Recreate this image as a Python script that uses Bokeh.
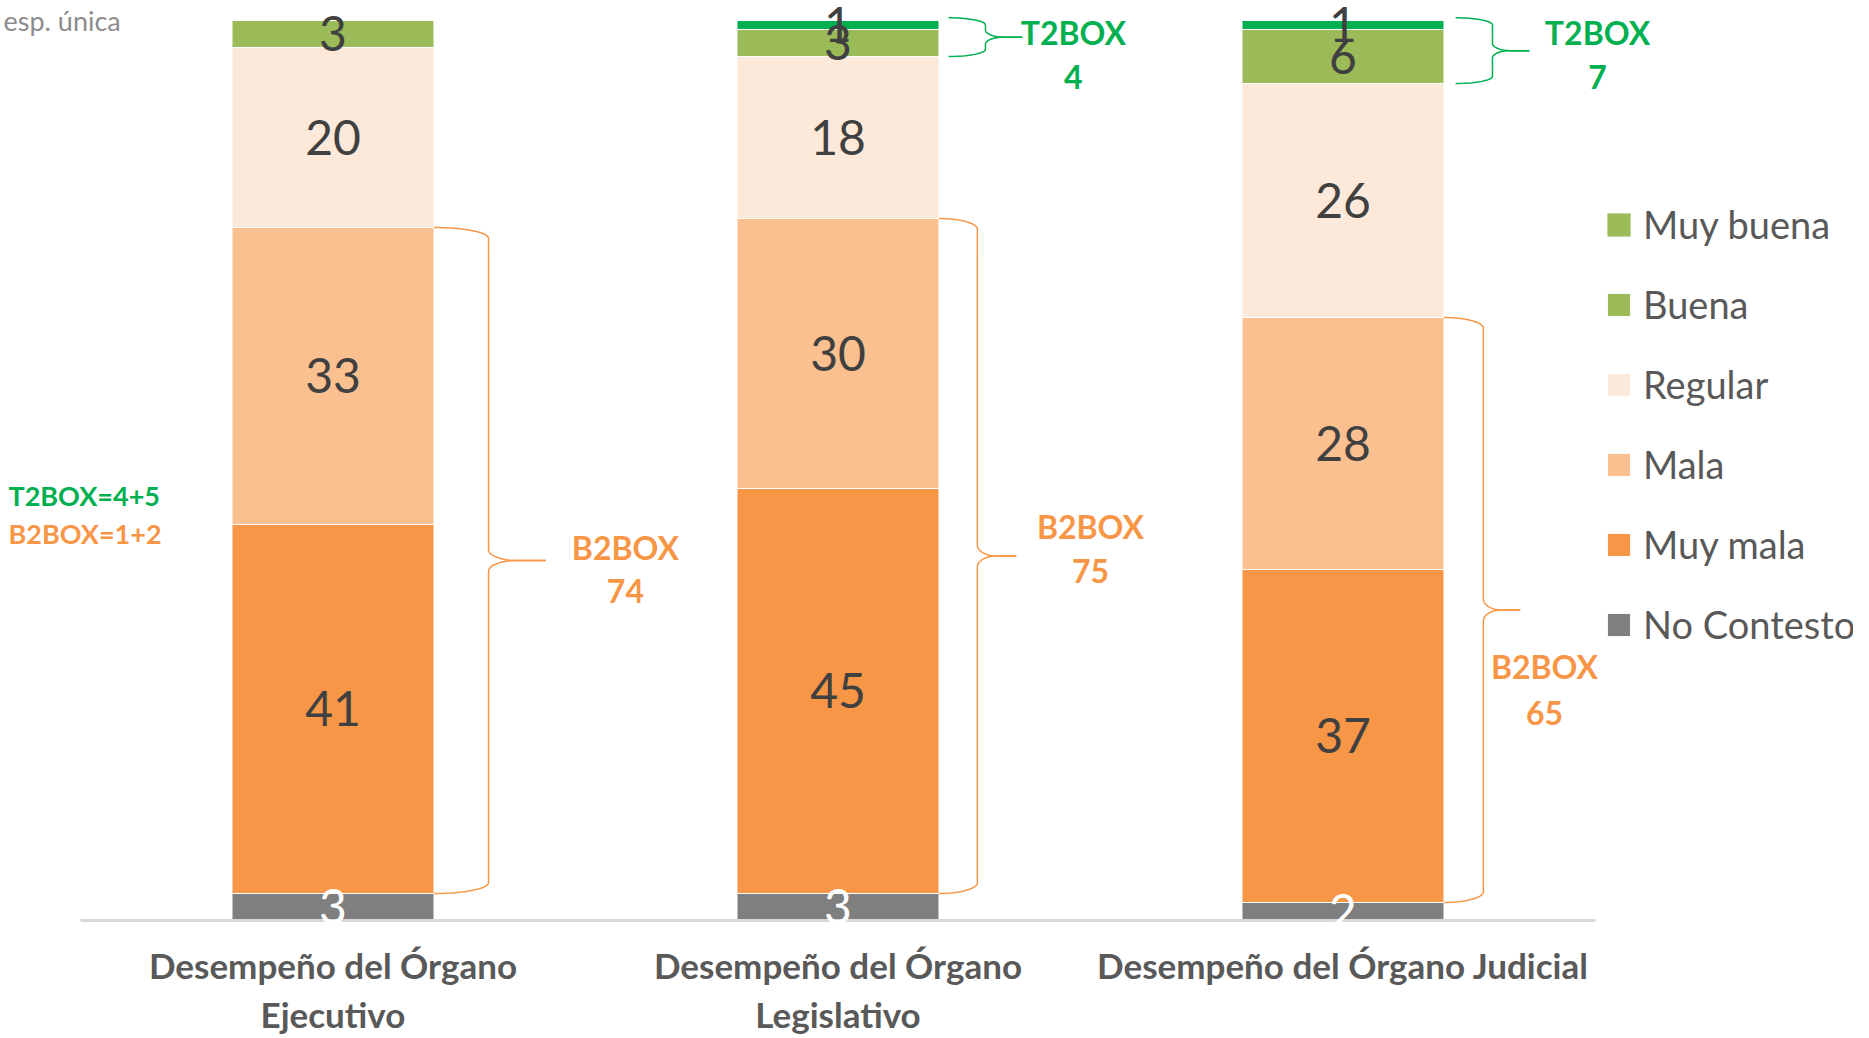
import math
from bokeh.plotting import figure
from bokeh.models import Range1d, Legend, LegendItem, Label, ColumnDataSource
from bokeh.embed import file_html
from bokeh.resources import INLINE
from bokeh.core.properties import value

# ---------------- data ----------------
categories = ["Desempeño del Órgano\nEjecutivo",
              "Desempeño del Órgano\nLegislativo",
              "Desempeño del Órgano Judicial"]
levels = ["No Contesto", "Muy mala", "Mala", "Regular", "Buena", "Muy buena"]
no_contesto = [3, 3, 2]
muy_mala = [41, 45, 37]
mala = [33, 30, 28]
regular = [20, 18, 26]
buena = [3, 3, 6]
muy_buena = [0, 1, 1]
show_t2 = [False, True, True]
note_t2 = "T2BOX=4+5"
note_b2 = "B2BOX=1+2"
subtitle = "esp. única"

# ---------------- style ----------------
colors = ["#7F7F7F", "#F79646", "#FAC090", "#FDE9D9", "#9BBB59", "#00B050"]
legend_colors = ["#7F7F7F", "#F79646", "#FAC090", "#FDE9D9", "#9BBB59", "#9BBB59"]
ORANGE = "#F79646"
GREEN = "#00B050"
FONT = "Lato"

W, H = 1853, 1036
series = [no_contesto, muy_mala, mala, regular, buena, muy_buena]
xpos = [i + 0.5 for i in range(len(categories))]
data = {"x": xpos}
for name, vals in zip(levels, series):
    data[name] = vals
source = ColumnDataSource(data)

p = figure(x_range=Range1d(-0.1584, 3.5109), y_range=Range1d(-12.89, 102.22),
           width=W, height=H, output_backend="svg", toolbar_location=None,
           min_border=0)
p.outline_line_color = None
p.xgrid.visible = False
p.ygrid.visible = False
p.xaxis.visible = False
p.yaxis.visible = False
p.background_fill_color = "white"
p.border_fill_color = "white"

renderers = p.vbar_stack(levels, x="x", width=0.4, color=colors, source=source,
                         line_color="white", line_width=1)

# baseline (category axis line)
p.segment(x0=[0], y0=[0], x1=[len(categories)], y1=[0], line_color="#D9D9D9", line_width=3)

# category labels
p.text(x=xpos, y=[-2.6] * len(categories), text=categories, text_font=value(FONT),
       text_font_style="bold", text_font_size="35px", text_color="#595959",
       text_align="center", text_baseline="top", text_line_height=1.16)

# data labels
lx, ly, lt, lc = [], [], [], []
for i, cx in enumerate(xpos):
    base = 0
    for j, vals in enumerate(series):
        v = vals[i]
        if v > 0:
            lx.append(cx)
            ly.append(base + v / 2)
            lt.append(str(v))
            lc.append("white" if j == 0 else "#404040")
        base += v
p.text(x=lx, y=ly, text=lt, text_color=lc, text_font=value(FONT),
       text_font_size="48px", text_align="center", text_baseline="middle")

# braces
def brace(xs, xv, xt, y0, y1, r):
    ym = (y0 + y1) / 2
    xc = xv + 0.5 * (xt - xv)
    n = 16
    top_x, top_y = [], []
    for k in range(n + 1):
        t = k / n * math.pi / 2
        top_x.append(xs + (xv - xs) * math.sin(t))
        top_y.append(y1 - r * (1 - math.cos(t)))
    for k in range(n + 1):
        t = k / n * math.pi / 2
        top_x.append(xv + (xc - xv) * (1 - math.cos(t)))
        top_y.append(ym + r - r * math.sin(t))
    top_x.append(xt)
    top_y.append(ym)
    bot_x = list(top_x)
    bot_y = [2 * ym - y for y in top_y]
    return [top_x, bot_x], [top_y, bot_y]

b2_brace = [(0.20, 0.308, 0.421), (0.20, 0.276, 0.353), (0.20, 0.278, 0.351)]
t2_brace = [None, (0.219, 0.292, 0.365), (0.223, 0.296, 0.369)]
b2_label = [(0.579, 41.4, 36.6), (0.50, 43.8, 38.8), (0.399, 28.2, 23.1)]
t2_label = [None, (0.466, 98.7, 93.7), (0.504, 98.7, 93.7)]

bxs, bys, txs, tys = [], [], [], []
for i, c in enumerate(xpos):
    y0 = no_contesto[i]
    y1 = no_contesto[i] + muy_mala[i] + mala[i]
    s, v, t = b2_brace[i]
    xs_, ys_ = brace(c + s, c + v, c + t, y0, y1, 1.2)
    bxs += xs_
    bys += ys_
    b2 = muy_mala[i] + mala[i]
    lxo, ly1, ly2 = b2_label[i]
    for txt, yy in (("B2BOX", ly1), (str(b2), ly2)):
        p.add_layout(Label(x=c + lxo, y=yy, text=txt, text_font=FONT, text_font_style="bold",
                           text_font_size="32px", text_color=ORANGE,
                           text_align="center", text_baseline="middle"))
    if show_t2[i]:
        ty1 = 100
        ty0 = 100 - buena[i] - muy_buena[i]
        s, v, t = t2_brace[i]
        xs_, ys_ = brace(c + s, c + v, c + t, ty0, ty1 + 0.3, 0.8)
        txs += xs_
        tys += ys_
        t2 = buena[i] + muy_buena[i]
        lxo, ly1, ly2 = t2_label[i]
        for txt, yy in (("T2BOX", ly1), (str(t2), ly2)):
            p.add_layout(Label(x=c + lxo, y=yy, text=txt, text_font=FONT, text_font_style="bold",
                               text_font_size="32px", text_color=GREEN,
                               text_align="center", text_baseline="middle"))

p.multi_line(xs=bxs, ys=bys, line_color=ORANGE, line_width=1.5)
p.multi_line(xs=txs, ys=tys, line_color=GREEN, line_width=1.5)

# side notes
p.add_layout(Label(x=-0.1426, y=47.2, text=note_t2, text_font=FONT, text_font_style="bold",
                   text_font_size="27px", text_color=GREEN, text_baseline="middle"))
p.add_layout(Label(x=-0.1426, y=43.0, text=note_b2, text_font=FONT, text_font_style="bold",
                   text_font_size="27px", text_color=ORANGE, text_baseline="middle"))
p.add_layout(Label(x=-0.1525, y=100.0, text=subtitle, text_font=FONT,
                   text_font_size="27px", text_color="#8C8C8C", text_baseline="alphabetic"))

# legend (top to bottom)
items = []
for name, col, r in reversed(list(zip(levels, legend_colors, renderers))):
    if col != r.glyph.fill_color:
        # legend swatch in the colour shown by the original legend (zero-height bar)
        r = p.vbar(x=[xpos[0]], bottom=[0], top=[0], width=0.4, fill_color=col, line_color=None)
    items.append(LegendItem(label=name, renderers=[r]))
legend = Legend(items=items, location=(1604, 387), glyph_width=29, glyph_height=29,
                label_text_font=FONT, label_text_font_size="38px", label_text_color="#595959",
                label_height=50, spacing=30, padding=0, margin=0, label_standoff=10,
                border_line_color=None, background_fill_alpha=0)
p.add_layout(legend)

open("out.html", "w").write(file_html(p, INLINE))
